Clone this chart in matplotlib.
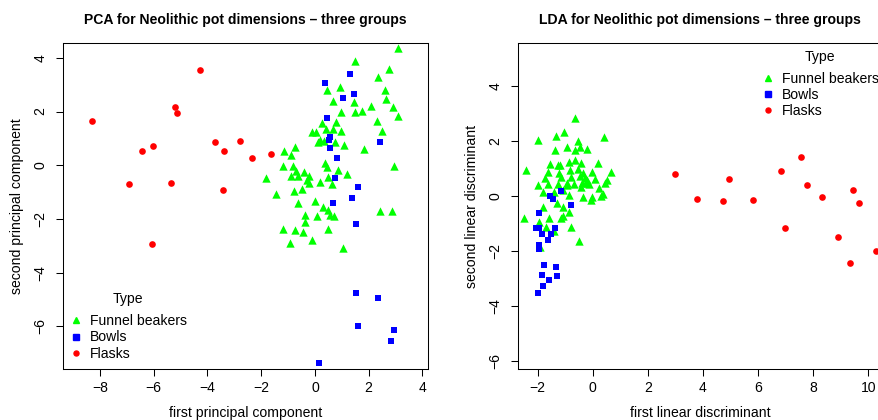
import matplotlib
matplotlib.use("Agg")
import matplotlib.pyplot as plt
import numpy as np
from matplotlib.lines import Line2D

plt.rcParams["font.family"] = ["Liberation Sans", "DejaVu Sans"]

# PCA scores
pca_funnel_x = [-1.81, -1.45, 3.09, 1.50, 2.77, 2.34, 0.45, 0.92, 2.62, 2.64, 0.67, 1.44, 2.08,
                2.92, 0.98, 1.50, 1.76, 3.09, 0.28, 0.80, 2.31, 0.40, -0.11, 0.03, 0.69, 0.97,
                2.51, 0.19, 0.13, 0.34, 0.76, 1.07, 1.82, -0.75, -1.16, -0.89, 2.94, -1.18,
                -0.80, 0.39, 0.46, -0.69, -0.39, 0.87, 1.20, -0.90, -0.62, -0.21, 0.49, -0.31,
                0.20, -0.22, 0.65, -0.49, -0.79, -0.01, -0.64, 0.31, 2.42, 2.87, 0.50, -0.36,
                0.07, 0.56, 0.72, -0.38, -1.18, -0.73, -0.44, 0.50, -0.94, -0.10, 1.05]
pca_funnel_y = [-0.46, -1.09, 4.36, 3.88, 3.60, 3.29, 2.80, 2.90, 2.80, 2.48, 2.38, 2.36, 2.22,
                2.17, 2.00, 1.99, 2.01, 1.82, 1.58, 1.61, 1.65, 1.36, 1.24, 1.25, 1.35, 1.29,
                1.27, 0.95, 0.87, 0.91, 0.88, 0.74, 0.60, 0.67, 0.54, 0.37, -0.04, -0.04,
                -0.04, 0.09, -0.07, -0.21, -0.24, -0.18, -0.31, -0.42, -0.42, -0.39, -0.44, -0.56,
                -0.61, -0.66, -0.71, -0.88, -0.96, -1.32, -1.39, -1.55, -1.69, -1.71, -1.66, -1.85,
                -1.91, -1.86, -1.90, -2.11, -2.38, -2.41, -2.47, -2.36, -2.88, -2.78, -3.09]
pca_bowl_x = [1.32, 0.39, 1.47, 1.06, 0.46, 0.57, 0.52, 0.57, 2.44, 0.83, 0.76, 1.62, 1.39,
              0.69, 1.54, 1.54, 2.36, 1.62, 2.96, 2.84, 0.16]
pca_bowl_y = [3.39, 3.05, 2.64, 2.49, 1.75, 1.05, 0.95, 0.63, 0.86, 0.26, -0.46, -0.82, -1.23,
              -1.42, -2.20, -4.77, -4.95, -6.00, -6.12, -6.56, -7.37]
pca_flask_x = [-8.29, -4.28, -5.22, -5.13, -6.43, -6.04, -3.72, -3.38, -2.78, -2.35, -1.63,
               -6.91, -5.37, -3.42, -6.05]
pca_flask_y = [1.65, 3.56, 2.15, 1.96, 0.52, 0.71, 0.88, 0.52, 0.91, 0.26, 0.42, -0.71, -0.65,
               -0.91, -2.92]

# LDA scores
lda_funnel_x = [-0.63, -1.34, -1.05, -2.00, 0.40, -0.52, -0.92, -0.63, -0.22, -0.46, -1.38,
                0.19, -2.41, -1.54, -1.18, -0.87, -0.63, -0.44, 0.67, -1.63, -1.22, -0.82,
                -0.52, -0.36, -0.04, -1.72, -1.15, -0.78, -0.46, -0.22, 0.08, 0.52, 0.46, -2.00,
                -1.63, -1.25, -0.94, -0.67, -0.42, -0.15, 0.22, -1.79, -1.42, -1.07, -0.85,
                -0.36, -0.04, 0.29, -2.48, -1.81, -1.07, -0.86, -1.60, -1.15, -1.07, -1.94,
                -0.79, -1.71, -1.40, -0.51, -1.91, -1.30, -0.07, 0.39, -0.28, -0.94, -0.40,
                -0.20, -1.27]
lda_funnel_y = [2.84, 2.20, 2.33, 2.05, 2.16, 2.01, 1.80, 1.68, 1.72, 1.80, 1.67,
                1.22, 0.97, 1.19, 1.14, 1.25, 1.32, 1.22, 0.88, 0.87, 0.84, 0.96,
                0.98, 0.85, 0.88, 0.68, 0.71, 0.71, 0.74, 0.59, 0.62, 0.59, 0.49, 0.41,
                0.44, 0.45, 0.41, 0.44, 0.33, 0.44, 0.29, 0.17, 0.17, 0.23, 0.05,
                -0.01, -0.04, 0.01, -0.78, -0.40, -0.38, -0.57, -0.80, -0.80, -0.70, -0.93,
                -1.10, -1.12, -1.25, -1.64, -1.83, -0.26, -0.13, 0.07, 0.65, 0.49, 0.47,
                0.49, 1.14]
lda_bowl_x = [-1.14, -1.54, -1.45, -0.78, -1.94, -2.06, -1.94, -1.36, -1.83, -1.50, -1.61,
              -1.94, -1.94, -1.76, -1.32, -1.83, -1.28, -1.57, -1.79, -1.97]
lda_bowl_y = [0.19, 0.02, -0.11, -0.33, -0.62, -1.15, -1.15, -1.16, -1.38, -1.38, -1.60,
              -1.76, -1.90, -2.51, -2.58, -2.86, -2.90, -3.05, -3.26, -3.52]
lda_flask_x = [2.99, 3.78, 4.74, 4.95, 5.81, 6.83, 7.57, 7.76, 8.32, 6.99, 8.89, 9.43, 9.65,
               10.27, 9.34]
lda_flask_y = [0.80, -0.11, -0.17, 0.63, -0.12, 0.91, 1.44, 0.42, -0.01, -1.15, -1.48, 0.23,
               -0.24, -1.98, -2.44]

group_labels = ["Funnel beakers", "Bowls", "Flasks"]
group_colors = ["#00ff00", "#0000ff", "#ff0000"]
group_markers = ["^", "s", "o"]
group_sizes = [6.0, 5.0, 4.8]

FS = 10.1


def draw_panel(ax, groups, title, xlabel, ylabel, xlim, ylim, xticks, yticks,
               legend_anchor, ylabel_x):
    for (gx, gy), color, marker, size in zip(groups, group_colors, group_markers, group_sizes):
        ax.scatter(gx, gy, s=size ** 2, c=color, marker=marker, linewidths=0, zorder=3)
    ax.set_xlim(*xlim)
    ax.set_ylim(*ylim)
    ax.set_xticks(xticks)
    ax.set_yticks(yticks)
    ax.tick_params(direction="out", length=5, width=0.75, labelsize=FS, pad=3.5)
    ax.tick_params(axis="y", pad=6)
    for lab in ax.get_yticklabels():
        lab.set_rotation(90)
        lab.set_va("center")
    for spine in ax.spines.values():
        spine.set_linewidth(0.75)
    ax.set_title(title, fontsize=FS, fontweight="bold", pad=0, y=1.06)
    ax.set_xlabel(xlabel, fontsize=FS)
    ax.xaxis.set_label_coords(0.5, -0.135)
    ax.xaxis.label.set_va("center")
    ax.set_ylabel(ylabel, fontsize=FS)
    ax.yaxis.set_label_coords(ylabel_x, 0.5)
    ax.yaxis.label.set_va("center")

    handles = [Line2D([], [], linestyle="none", marker=m, color=c, markersize=s * 0.75)
               for m, c, s in zip(group_markers, group_colors, group_sizes)]
    leg = ax.legend(handles, group_labels, title="Type", loc="upper left",
                    bbox_to_anchor=legend_anchor, bbox_transform=ax.figure.transFigure,
                    frameon=False, fontsize=FS, title_fontsize=FS, handlelength=1.0,
                    handletextpad=0.5, labelspacing=0.15, borderpad=0, borderaxespad=0)
    # a bit more room between "Type" and the entries, as in R
    leg._legend_box.sep = 6


fig = plt.figure(figsize=(8.79, 4.2), dpi=100)
ax1 = fig.add_axes([62.7 / 879, 1 - 369 / 420, 365.3 / 879, 325.7 / 420])
ax2 = fig.add_axes([517.7 / 879, 1 - 369.3 / 420, 365.3 / 879, 326 / 420])

draw_panel(ax1, [(pca_funnel_x, pca_funnel_y), (pca_bowl_x, pca_bowl_y), (pca_flask_x, pca_flask_y)],
           "PCA for Neolithic pot dimensions \u2013 three groups",
           "first principal component", "second principal component",
           (-9.39, 4.21), (-7.59, 4.54), [-8, -6, -4, -2, 0, 2, 4], [-6, -4, -2, 0, 2, 4],
           (69 / 879, 1 - 292 / 420), (17 - 62.7) / 365.3)
draw_panel(ax2, [(lda_funnel_x, lda_funnel_y), (lda_bowl_x, lda_bowl_y), (lda_flask_x, lda_flask_y)],
           "LDA for Neolithic pot dimensions \u2013 three groups",
           "first linear discriminant", "second linear discriminant",
           (-2.72, 10.53), (-6.29, 5.56), [-2, 0, 2, 4, 6, 8, 10], [-6, -4, -2, 0, 2, 4],
           (761 / 879, 1 - 49.5 / 420), (472.5 - 517.7) / 365.3)

fig.savefig("out.png", dpi=100)
